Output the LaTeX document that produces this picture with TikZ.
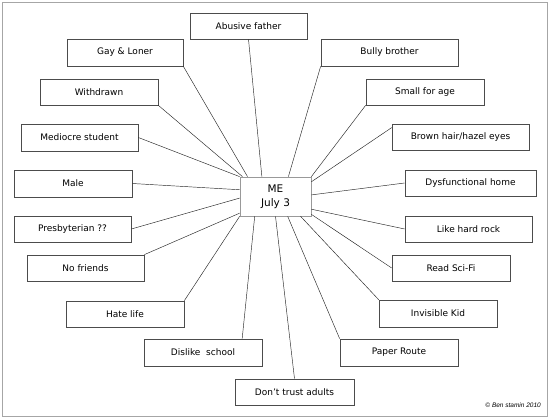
\documentclass[tikz,border=0pt]{standalone}
\usepackage{fontspec}
\setmainfont{DejaVu Sans}
\newfontfamily\copyfont{Liberation Sans}
\usetikzlibrary{calc}
\begin{document}
\begin{tikzpicture}[x=1pt,y=-1pt,
  box/.style={draw=black!70,line width=0.7pt,fill=white,minimum width=118pt,minimum height=26pt,inner sep=0pt,font=\fontsize{9}{11}\selectfont},
  mebox/.style={draw=black!40,line width=0.7pt,fill=white,minimum width=71pt,minimum height=39pt,inner sep=0pt,align=center,font=\fontsize{10.5}{14}\selectfont},
  link/.style={line width=0.45pt,black!85}]
\path[use as bounding box,fill=white] (0,0) rectangle (550,419);
\draw[black!35,line width=0.8pt] (2,2) rectangle (547,416);

\node[mebox] (me) at (275.5,196.5) {ME\\July 3};

\node[box,minimum width=117pt] (abuse) at (248.5,26) {Abusive father};
\node[box,minimum width=116pt,minimum height=27pt] (gay) at (125,52.5) {Gay \& Loner};
\node[box] (withdrawn) at (99,92) {Withdrawn};
\node[box,minimum width=117pt,minimum height=27pt] (mediocre) at (79.5,137.5) {Mediocre student};
\node[box,minimum height=27pt] (male) at (73,183.5) {Male};
\node[box,minimum width=117pt] (presb) at (72.5,229) {Presbyterian ??};
\node[box,minimum width=117pt] (nofriends) at (85.5,268) {No friends};
\node[box] (hate) at (125,314) {Hate life};
\node[box,minimum height=27pt] (dislike) at (203,352.5) {Dislike\ \ school};
\node[box,minimum width=119pt] (donttrust) at (294.5,392) {Don't trust adults};
\node[box,minimum height=27pt] (paper) at (399,352.5) {Paper Route};
\node[box,minimum height=27pt] (invisible) at (438,313.5) {Invisible Kid};
\node[box] (scifi) at (451,268) {Read Sci-Fi};
\node[box,minimum width=127pt] (rock) at (468.5,229) {Like hard rock};
\node[box,minimum width=131pt] (dysf) at (470.5,183) {Dysfunctional home};
\node[box,minimum width=137pt] (brown) at (460.5,137) {Brown hair/hazel eyes};
\node[box] (small) at (425,92) {Small for age};
\node[box,minimum width=137pt,minimum height=27pt] (bully) at (389.5,52.5) {Bully brother};

\draw[link] (abuse.south) -- ($(me.north west)!0.31!(me.north east)$);
\draw[link] (gay.south east) -- ($(me.north west)!0.11!(me.north east)$);
\draw[link] (withdrawn.south east) -- ($(me.north west)!0.04!(me.north east)$);
\draw[link] (mediocre.east) -- (me.north west);
\draw[link] (male.east) -- ($(me.north west)!0.33!(me.south west)$);
\draw[link] (presb.east) -- ($(me.north west)!0.54!(me.south west)$);
\draw[link] (nofriends.north east) -- ($(me.north west)!0.92!(me.south west)$);
\draw[link] (hate.north east) -- (me.south west);
\draw[link] ($(dislike.north west)!0.83!(dislike.north east)$) -- ($(me.south west)!0.21!(me.south east)$);
\draw[link] (donttrust.north) -- (me.south);
\draw[link] (paper.north west) -- ($(me.south west)!0.67!(me.south east)$);
\draw[link] (invisible.north west) -- ($(me.south west)!0.85!(me.south east)$);
\draw[link] (scifi.west) -- ($(me.north east)!0.95!(me.south east)$);
\draw[link] (rock.west) -- ($(me.north east)!0.82!(me.south east)$);
\draw[link] (dysf.west) -- ($(me.north east)!0.46!(me.south east)$);
\draw[link] ($(brown.north west)!0.15!(brown.south west)$) -- ($(me.north east)!0.13!(me.south east)$);
\draw[link] (small.south west) -- (me.north east);
\draw[link] (bully.south west) -- ($(me.north west)!0.68!(me.north east)$);

\node[font=\copyfont\itshape\fontsize{6.5}{8}\selectfont,anchor=east,inner sep=0pt] (copy) at (541,405) {\textcopyright\ Ben stamin 2010};
\end{tikzpicture}
\end{document}
